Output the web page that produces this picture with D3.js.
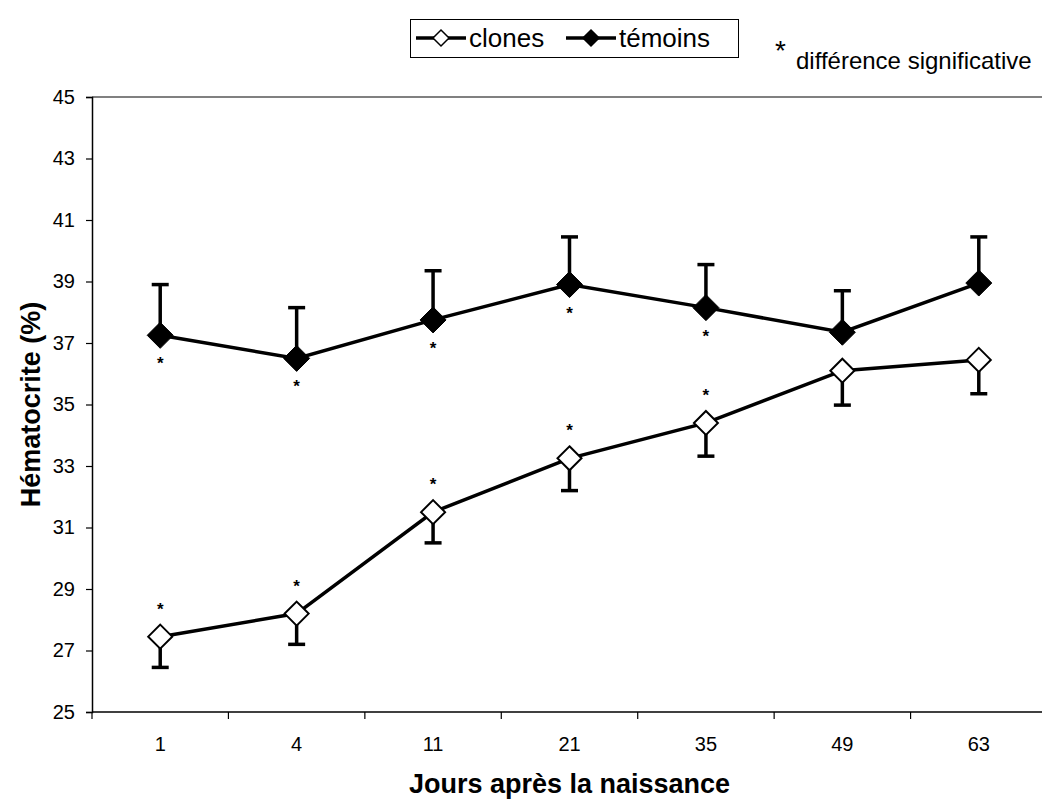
<!DOCTYPE html>
<html>
  <head>
    <meta charset="utf-8" />
    <title>Hématocrite</title>
    <script src="https://d3js.org/d3.v7.min.js"></script>
    <style>
      body { margin: 0; background: #fff; }
      text { font-family: "Liberation Sans", Arial, sans-serif; }
    </style>
  </head>
  <body>
    <script>
      // data
      const days = ["1", "4", "11", "21", "35", "49", "63"];
      const clones = [27.45, 28.2, 31.5, 33.25, 34.4, 36.1, 36.45];
      const clonesSd = [1.0, 1.0, 1.0, 1.05, 1.08, 1.12, 1.1];
      const temoins = [37.25, 36.5, 37.75, 38.9, 38.15, 37.35, 38.95];
      const temoinsSd = [1.65, 1.65, 1.6, 1.55, 1.4, 1.35, 1.5];
      const significant = [true, true, true, true, true, false, false];
      const yTicks = [25, 27, 29, 31, 33, 35, 37, 39, 41, 43, 45];

      const width = 1042, height = 800;
      const mLeft = 92, mTop = 97, mBottom = 712, mRight = 1047;

      const svg = d3.select("body").append("svg")
        .attr("width", width).attr("height", height);

      const x = d3.scaleBand().domain(days).range([mLeft, mRight]);
      const y = d3.scaleLinear().domain([25, 45]).range([mBottom, mTop]);
      const cx = (i) => x(days[i]) + x.bandwidth() / 2;

      // plot frame top (gray)
      svg.append("line")
        .attr("x1", mLeft).attr("x2", mRight)
        .attr("y1", mTop).attr("y2", mTop)
        .attr("stroke", "#808080").attr("stroke-width", 2);

      // y axis
      const yAxis = svg.append("g")
        .attr("transform", `translate(${mLeft},0)`)
        .call(d3.axisLeft(y).tickValues(yTicks).tickSize(6).tickPadding(11));
      yAxis.select(".domain").attr("stroke", "#000").attr("stroke-width", 1.5);
      yAxis.selectAll(".tick line").attr("stroke", "#000").attr("stroke-width", 1.2);
      yAxis.selectAll("text").attr("font-size", 20).attr("fill", "#000")
        .style("font-family", "'Liberation Sans', Arial, sans-serif");

      // x axis: ticks on band edges
      svg.append("line")
        .attr("x1", mLeft).attr("x2", mRight)
        .attr("y1", mBottom).attr("y2", mBottom)
        .attr("stroke", "#000").attr("stroke-width", 1.5);
      svg.selectAll(".xtick").data(days.concat(["end"])).enter().append("line")
        .attr("x1", (d, i) => mLeft + i * x.bandwidth())
        .attr("x2", (d, i) => mLeft + i * x.bandwidth())
        .attr("y1", mBottom).attr("y2", mBottom + 7)
        .attr("stroke", "#000").attr("stroke-width", 1.2);
      svg.selectAll(".xlab").data(days).enter().append("text")
        .attr("x", (d, i) => cx(i)).attr("y", 751)
        .attr("text-anchor", "middle").attr("font-size", 20)
        .text((d) => d);

      // axis titles
      svg.append("text")
        .attr("x", (mLeft + mRight) / 2).attr("y", 793)
        .attr("text-anchor", "middle").attr("font-size", 27).attr("font-weight", "bold")
        .text("Jours après la naissance");
      svg.append("text")
        .attr("transform", `translate(40,${(mTop + mBottom) / 2}) rotate(-90)`)
        .attr("text-anchor", "middle").attr("font-size", 27).attr("font-weight", "bold")
        .text("Hématocrite (%)");

      const line = d3.line().x((d, i) => cx(i)).y((d) => y(d));

      // lines
      [clones, temoins].forEach((s) => {
        svg.append("path").datum(s)
          .attr("d", line).attr("fill", "none")
          .attr("stroke", "#000").attr("stroke-width", 3.5);
      });

      // error bars: clones downwards, témoins upwards
      function errorBars(vals, sds, dir) {
        const g = svg.append("g").attr("stroke", "#000");
        g.selectAll(".eb").data(vals).enter().append("line")
          .attr("x1", (d, i) => cx(i)).attr("x2", (d, i) => cx(i))
          .attr("y1", (d) => y(d))
          .attr("y2", (d, i) => y(d + dir * sds[i]))
          .attr("stroke-width", 3.5);
        g.selectAll(".cap").data(vals).enter().append("line")
          .attr("x1", (d, i) => cx(i) - 8.5).attr("x2", (d, i) => cx(i) + 8.5)
          .attr("y1", (d, i) => y(d + dir * sds[i]))
          .attr("y2", (d, i) => y(d + dir * sds[i]))
          .attr("stroke-width", 3.5);
      }
      errorBars(clones, clonesSd, -1);
      errorBars(temoins, temoinsSd, 1);

      // markers
      const diamond = (r) => `M0,${-r}L${r},0L0,${r}L${-r},0Z`;
      svg.selectAll(".mc").data(clones).enter().append("path")
        .attr("d", diamond(12))
        .attr("transform", (d, i) => `translate(${cx(i)},${y(d)})`)
        .attr("fill", "#fff").attr("stroke", "#000").attr("stroke-width", 2);
      svg.selectAll(".mt").data(temoins).enter().append("path")
        .attr("d", diamond(13))
        .attr("transform", (d, i) => `translate(${cx(i)},${y(d)})`)
        .attr("fill", "#000").attr("stroke", "#000").attr("stroke-width", 1);

      // significance asterisks
      const sigIdx = days.map((d, i) => i).filter((i) => significant[i]);
      svg.selectAll(".st").data(sigIdx).enter().append("text")
        .attr("x", (i) => cx(i))
        .attr("y", (i) => y(temoins[i]) + 34)
        .attr("text-anchor", "middle").attr("font-size", 17).attr("font-weight", "bold")
        .text("*");
      svg.selectAll(".sc").data(sigIdx).enter().append("text")
        .attr("x", (i) => cx(i))
        .attr("y", (i) => y(clones[i]) - 22)
        .attr("text-anchor", "middle").attr("font-size", 17).attr("font-weight", "bold")
        .text("*");

      // legend
      const lg = svg.append("g");
      lg.append("rect")
        .attr("x", 410.5).attr("y", 19.5).attr("width", 328).attr("height", 38)
        .attr("fill", "#fff").attr("stroke", "#000").attr("stroke-width", 1);
      const items = [
        { name: "clones", fill: "#fff", x0: 416 },
        { name: "témoins", fill: "#000", x0: 566 }
      ];
      items.forEach((it) => {
        lg.append("line")
          .attr("x1", it.x0).attr("x2", it.x0 + 50)
          .attr("y1", 38).attr("y2", 38)
          .attr("stroke", "#000").attr("stroke-width", 3.5);
        lg.append("path").attr("d", diamond(8))
          .attr("transform", `translate(${it.x0 + 25},38)`)
          .attr("fill", it.fill).attr("stroke", "#000").attr("stroke-width", 1.5);
        lg.append("text")
          .attr("x", it.x0 + 53).attr("y", 47)
          .attr("font-size", 26).text(it.name);
      });
      svg.append("text").attr("x", 775).attr("y", 60)
        .attr("font-size", 28).text("*");
      svg.append("text").attr("x", 796).attr("y", 69)
        .attr("font-size", 24).text("différence significative");
    </script>
  </body>
</html>
